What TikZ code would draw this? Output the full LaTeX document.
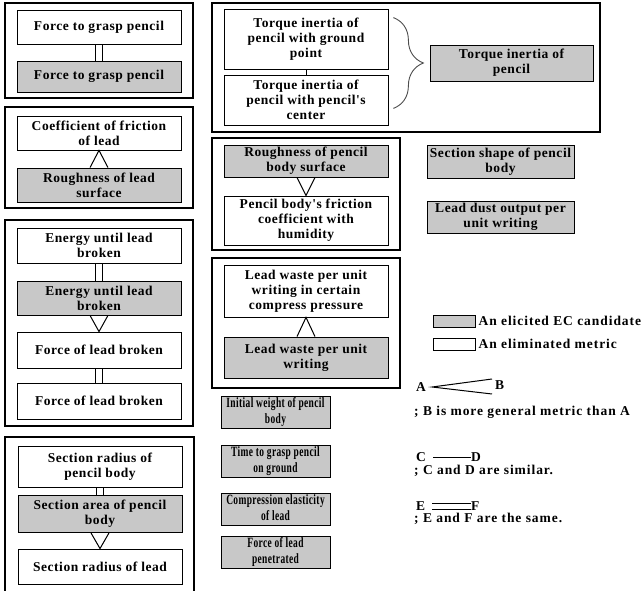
\documentclass[tikz,border=0pt]{standalone}
\usepackage{fontspec}
\usepackage{graphicx}
\setmainfont{Liberation Serif}
\newfontfamily\metricfont[LetterSpace=4]{Liberation Serif}
\newfontfamily\keyfont[LetterSpace=7]{Liberation Serif}
\usetikzlibrary{positioning, decorations.pathreplacing}

\definecolor{candgray}{RGB}{200,200,200}
\newcommand{\squeeze}[1]{\scalebox{0.7}[1.05]{\begin{tabular}{@{}c@{}}#1\end{tabular}}}

\begin{document}
\begin{tikzpicture}[x=1pt, y=-1pt,
        metric/.style={draw, fill=white, line width=0.8pt, align=center, inner sep=0pt,
            minimum width=164pt, font=\metricfont\bfseries\fontsize{13.5}{15}\selectfont},
        cand/.style={metric, fill=candgray},
        group/.style={draw, line width=1.6pt},
        rail/.style={line width=1pt},
        general/.style={line width=1pt},
        keytext/.style={inner sep=0pt, anchor=west, font=\keyfont\bfseries\fontsize{13.5}{15}\selectfont}]
        \useasboundingbox (0,0) rectangle (643,591);

        % Left column
        \node[metric, minimum height=34pt] (grasp1) at (99,27) {Force to grasp pencil};
        \node[cand, minimum height=31pt] (grasp2) at (99,76.5) {Force to grasp pencil};
        \node[metric, minimum height=34pt] (frictlead) at (99,133) {Coefficient of friction\\of lead};
        \node[cand, minimum height=34pt] (roughlead) at (99,185) {Roughness of lead\\surface};
        \node[metric, minimum height=35pt] (energy1) at (99,245.5) {Energy until lead\\broken};
        \node[cand, minimum height=34pt] (energy2) at (99,298) {Energy until lead\\broken};
        \node[metric, minimum height=36pt] (break1) at (99,350) {Force of lead broken};
        \node[metric, minimum height=36pt] (break2) at (99,401) {Force of lead broken};
        \node[metric, minimum height=41pt] (radbody) at (100,466.5) {Section radius of\\pencil body};
        \node[cand, minimum height=37pt] (areabody) at (100,514) {Section area of pencil\\body};
        \node[metric, minimum height=35pt] (radlead) at (100,566.5) {Section radius of lead};

        % Middle column
        \node[metric, minimum height=60pt] (torqground) at (306,39) {Torque inertia of\\pencil with ground\\point};
        \node[metric, minimum height=50pt] (torqcenter) at (306,100) {Torque inertia of\\pencil with pencil's\\center};
        \node[cand, minimum width=163pt, minimum height=36pt] (torq) at (511.5,63) {Torque inertia of\\pencil};
        \node[cand, minimum height=32pt] (roughbody) at (306,161) {Roughness of pencil\\body surface};
        \node[metric, minimum height=49pt] (frictbody) at (306,220.5) {Pencil body's friction\\coefficient with\\humidity};
        \node[metric, minimum height=52pt] (waste1) at (306,291) {Lead waste per unit\\writing in certain\\compress pressure};
        \node[cand, minimum height=41pt] (waste2) at (306,357.5) {Lead waste per unit\\writing};

        % Single candidates
        \node[cand, minimum width=147pt, minimum height=33pt] (shape) at (500.5,161.5) {Section shape of pencil\\body};
        \node[cand, minimum width=147pt, minimum height=32pt] (dust) at (500.5,217) {Lead dust output per\\unit writing};
        \node[cand, minimum width=109pt, minimum height=31pt] (weight) at (275.5,412.5) {\squeeze{Initial weight of pencil\\body}};
        \node[cand, minimum width=109pt, minimum height=32pt] (timegrasp) at (275.5,461) {\squeeze{Time to grasp pencil\\on ground}};
        \node[cand, minimum width=109pt, minimum height=32pt] (elastic) at (275.5,509) {\squeeze{Compression elasticity\\of lead}};
        \node[cand, minimum width=109pt, minimum height=31pt] (penetr) at (275.5,552.5) {\squeeze{Force of lead\\penetrated}};

        % Group frames
        \draw[group] (5,3) rectangle (193,98);
        \draw[group] (5,107) rectangle (193,208);
        \draw[group] (5,220) rectangle (193,426);
        \draw[group] (5,595) -- (5,437) -- (194,437) -- (194,595);
        \draw[group] (212,3) rectangle (600,132);
        \draw[group] (212,138) rectangle (400,250);
        \draw[group] (212,258) rectangle (400,388);

        % Same metrics
        \foreach \a/\b in {grasp1/grasp2, energy1/energy2, break1/break2, radbody/areabody}
            \foreach \d in {-3.5,3.5}
                \draw[rail] ([xshift=\d pt]\a.south) -- ([xshift=\d pt]\b.north);

        % Similar metrics
        \draw[rail] (torqground) -- (torqcenter);
        \draw[draw=black!70, line width=0.9pt, decorate, decoration={brace, amplitude=30pt}]
            ([xshift=5pt, yshift=-9pt]torqground.north east) -- ([xshift=5pt, yshift=17pt]torqcenter.south east);

        % More general metrics
        \foreach \a/\b in {frictlead/roughlead, waste1/waste2}
            \draw[general] ([xshift=-9pt]\b.north) -- (\a.south) -- ([xshift=9pt]\b.north);
        \foreach \a/\b in {energy2/break1, areabody/radlead, roughbody/frictbody}
            \draw[general] ([xshift=-9pt]\a.south) -- (\b.north) -- ([xshift=9pt]\a.south);

        % Legend
        \node[cand, minimum width=42pt, minimum height=12pt] (keycand) at (454,321) {};
        \node[keytext, right=3pt of keycand] {An elicited EC candidate};
        \node[metric, minimum width=42pt, minimum height=12pt] (keyelim) at (454,344) {};
        \node[keytext, right=3pt of keyelim] {An eliminated metric};

        \node[keytext] (keyA) at (416,387) {A};
        \node[keytext] (keyB) at (495,385) {B};
        \draw[general] ([yshift=6pt, xshift=-3pt]keyB.west) -- ([xshift=6pt]keyA.east) -- ([yshift=-9pt, xshift=-3pt]keyB.west);
        \node[keytext] at (414,412) {; B is more general metric than A};

        \node[keytext] (keyC) at (416,457) {C};
        \node[keytext] (keyD) at (471,457) {D};
        \draw[rail] ([xshift=7pt]keyC.east) -- (keyD.west);
        \node[keytext] at (414,471) {; C and D are similar.};

        \node[keytext] (keyE) at (416,506) {E};
        \node[keytext] (keyF) at (471,506) {F};
        \foreach \d in {-3,3}
            \draw[rail] ([xshift=7pt, yshift=\d pt]keyE.east) -- ([yshift=\d pt]keyF.west);
        \node[keytext] at (414,519) {; E and F are the same.};
    \end{tikzpicture}
\end{document}
